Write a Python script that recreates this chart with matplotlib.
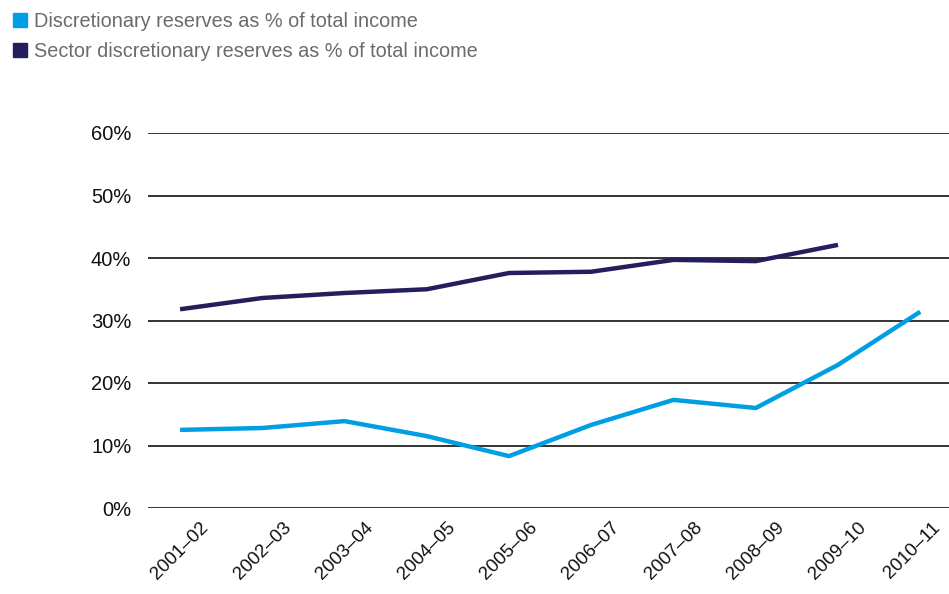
import matplotlib.pyplot as plt
from matplotlib.lines import Line2D
from matplotlib.transforms import ScaledTranslation

# Data
years = ["2001–02", "2002–03", "2003–04", "2004–05", "2005–06",
         "2006–07", "2007–08", "2008–09", "2009–10", "2010–11"]
reserves = [12.5, 12.8, 13.9, 11.5, 8.3, 13.3, 17.3, 16.0, 22.9, 31.4]
sector = [31.8, 33.6, 34.4, 35.0, 37.6, 37.8, 39.7, 39.5, 42.1]

blue = "#009fe3"
navy = "#231f5c"

plt.rcParams['font.family'] = ['Liberation Sans', 'DejaVu Sans']

fig = plt.figure(figsize=(9.49, 5.94), dpi=100)
ax = fig.add_axes([148 / 949, 1 - 508 / 594, 1 - 148 / 949, (508 - 133) / 594])

x = list(range(len(years)))
ax.plot(x, reserves, color=blue, lw=3.2, solid_capstyle='butt', zorder=3)
ax.plot(x[:len(sector)], sector, color=navy, lw=3.2, solid_capstyle='butt', zorder=3)

ax.set_ylim(0, 60)
ax.set_xlim(-0.39, 9.35)
ax.set_yticks(range(0, 61, 10))
ax.set_yticklabels([f"{v}%" for v in range(0, 61, 10)])
ax.set_xticks(x)
ax.set_xticklabels(years, rotation=45, ha='center')
ax.tick_params(axis='y', length=0, pad=12, labelsize=14.5, labelcolor='#111111')
ax.tick_params(axis='x', length=0, pad=8, labelsize=13.5, labelcolor='#111111')
ax.grid(axis='y', color='#111111', lw=1.2, zorder=1)
ax.set_axisbelow(True)
for s in ax.spines.values():
    s.set_visible(False)

# nudge the last rotated label left so it stays inside the canvas
last = ax.get_xticklabels()[-1]
last.set_transform(last.get_transform() + ScaledTranslation(-6 / 72, 0, fig.dpi_scale_trans))

handles = [Line2D([], [], marker='s', ls='', color=blue, markersize=10.5),
           Line2D([], [], marker='s', ls='', color=navy, markersize=10.5)]
labels = ["Discretionary reserves as % of total income",
          "Sector discretionary reserves as % of total income"]
leg = fig.legend(handles, labels, loc='upper left', bbox_to_anchor=(0.0, 1.0),
                 frameon=False, fontsize=14.3, handlelength=0.8, handletextpad=0.3,
                 labelspacing=0.55, borderaxespad=0.2)
for t in leg.get_texts():
    t.set_color('#6b6b6b')

fig.savefig("out.png", dpi=100)
